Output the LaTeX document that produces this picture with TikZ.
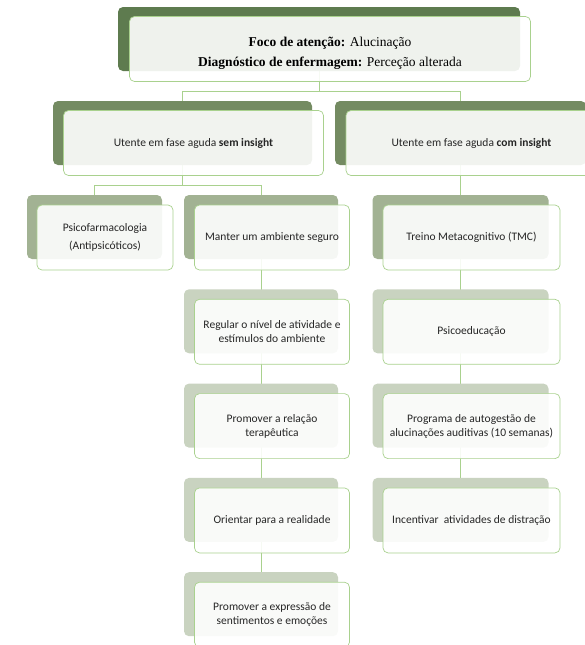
\documentclass[tikz,border=0pt]{standalone}
\usepackage{fontspec}
\setmainfont{Carlito}
\newfontfamily\serifo{Liberation Serif}
\usetikzlibrary{positioning}
\pgfdeclarelayer{bg}
\pgfsetlayers{bg,main}

\definecolor{verdeA}{HTML}{5E7B4F}
\definecolor{verdeB}{HTML}{748B62}
\definecolor{verdeC}{HTML}{A2B293}
\definecolor{verdeD}{HTML}{C9D3C0}
\definecolor{linha}{HTML}{A9D18E}
\definecolor{texto}{HTML}{262626}

\tikzset{
	fundo/.style={fill=#1, rounded corners=5pt, inner sep=0pt, minimum height=64pt},
	frente/.style={draw=linha, line width=0.7pt, fill=white, fill opacity=0.9, text opacity=1,
		rounded corners=5pt, inner sep=0pt, minimum height=65pt, align=center,
		font=\fontsize{11.5}{14}\selectfont, text=texto},
	liga/.style={draw=linha, line width=0.7pt}
}

\begin{document}
\begin{tikzpicture}[x=1pt,y=-1pt]
	\useasboundingbox (0,0) rectangle (585,645);
	\clip (0,0) rectangle (585,645);
	% topo
	\node[fundo=verdeA, minimum width=402pt] (foco-f) at (319,39) {};
	\node[frente, minimum width=401pt, font=\serifo\fontsize{13.5}{20}\selectfont, text=black]
		(foco) at ([shift={(11,10)}]foco-f.center)
		{\rule{0pt}{17pt}\textbf{Foco de atenção:} Alucinação\\ \textbf{Diagnóstico de enfermagem:} Perceção alterada};
	% segundo nivel
	\node[fundo=verdeB, minimum width=259pt] (sem-f) at (182.5,133) {};
	\node[frente, minimum width=260pt] (sem) at ([shift={(11,10)}]sem-f.center)
		{Utente em fase aguda \textbf{sem insight}};
	\node[fundo=verdeB, minimum width=251pt] (com-f) at (460.5,133) {};
	\node[frente, minimum width=251pt] (com) at ([shift={(11,10)}]com-f.center)
		{Utente em fase aguda \textbf{com insight}};
	% terceiro nivel
	\node[fundo=verdeC, minimum width=135pt] (psi-f) at (94.5,227) {};
	\node[frente, minimum width=136pt, font=\fontsize{11.5}{18}\selectfont] (psi) at ([shift={(10.5,10.5)}]psi-f.center)
		{Psicofarmacologia\\(Antipsicóticos)};
	\foreach \n/\cor/\t [count=\k from 0] in {
		m1/verdeC/{Manter um ambiente seguro},
		m2/verdeD/{Regular o nível de atividade e\\estímulos do ambiente},
		m3/verdeD/{Promover a relação\\terapêutica},
		m4/verdeD/{Orientar para a realidade},
		m5/verdeD/{Promover a expressão de\\sentimentos e emoções}}
	{
		\node[fundo=\cor, minimum width=154pt] (\n-f) at (261,227+94.3*\k) {};
		\node[frente, minimum width=155pt] (\n) at ([shift={(11,10.5)}]\n-f.center) {\t};
	}
	\foreach \n/\cor/\t [count=\k from 0] in {
		t1/verdeC/{Treino Metacognitivo (TMC)},
		t2/verdeD/{Psicoeducação},
		t3/verdeD/{Programa de autogestão de\\alucinações auditivas (10 semanas)},
		t4/verdeD/{Incentivar\ \ atividades de distração}}
	{
		\node[fundo=\cor, minimum width=176pt] (\n-f) at (460.5,227+94.3*\k) {};
		\node[frente, minimum width=177pt] (\n) at ([shift={(11,10.5)}]\n-f.center) {\t};
	}
	% ligacoes
	\coordinate (ramo1) at (319,91);
	\coordinate (ramo2) at (182.5,185);
	\begin{pgfonlayer}{bg}
		\draw[liga] (foco-f.center) -- (ramo1) -| (sem-f.center);
		\draw[liga] (ramo1) -| (com-f.center);
		\draw[liga] (sem-f.center) -- (ramo2) -| (psi-f.center);
		\draw[liga] (ramo2) -| (m1-f.center);
		\draw[liga] (m1-f.center) -- (m5-f.center);
		\draw[liga] (com-f.center) -- (t4-f.center);
	\end{pgfonlayer}
\end{tikzpicture}
\end{document}
